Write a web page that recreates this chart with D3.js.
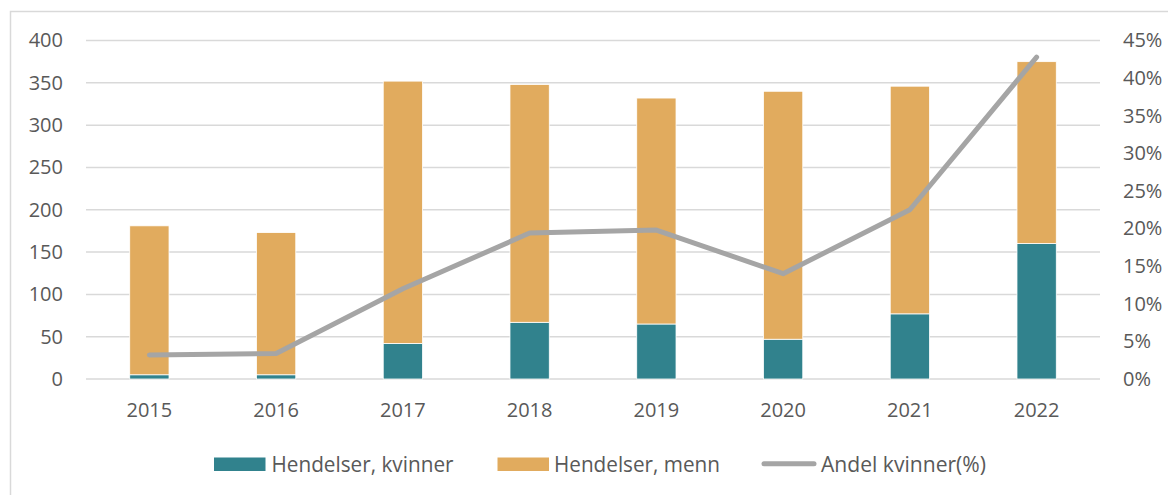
<!DOCTYPE html>
<html>
<head>
<meta charset="utf-8">
<script src="https://cdn.jsdelivr.net/npm/d3@7"></script>
<style>
  body { margin: 0; background: #fff; }
  svg text { font-family: "Open Sans", sans-serif; fill: #595959; }
</style>
</head>
<body>
<svg id="chart" width="1168" height="495"></svg>
<script>
const years = ['2015', '2016', '2017', '2018', '2019', '2020', '2021', '2022'];
const women = [5, 5, 42, 67, 65, 47, 77, 160];
const men = [176, 168, 310, 281, 267, 293, 269, 215];
const shareWomen = [3.2, 3.4, 12.0, 19.4, 19.8, 14.0, 22.5, 42.8];
const leftTicks = [0, 50, 100, 150, 200, 250, 300, 350, 400];
const rightTicks = [0, 5, 10, 15, 20, 25, 30, 35, 40, 45];
const legendLabels = ['Hendelser, kvinner', 'Hendelser, menn', 'Andel kvinner(%)'];

const colWomen = '#31828d', colMen = '#e1ab5e', colLine = '#a5a5a5', colGrid = '#d9d9d9';

const svg = d3.select('#chart');
const margin = { left: 86, right: 1100, top: 40.5, bottom: 379 };

// chart frame
svg.append('rect')
    .attr('x', 10.5).attr('y', 11.5)
    .attr('width', 1200).attr('height', 600)
    .attr('fill', 'none').attr('stroke', colGrid).attr('stroke-width', 1.5);

let x = d3.scaleBand().domain(years)
    .range([margin.left, margin.right])
    .paddingInner(0.69).paddingOuter(0.345);
let y = d3.scaleLinear().domain([0, 400]).range([margin.bottom, margin.top]);
let y2 = d3.scaleLinear().domain([0, 45]).range([margin.bottom, margin.top]);

// gridlines
svg.append('g').selectAll('line').data(leftTicks).join('line')
    .attr('x1', margin.left).attr('x2', margin.right)
    .attr('y1', (d) => y(d)).attr('y2', (d) => y(d))
    .attr('stroke', colGrid).attr('stroke-width', 1.5);

// left axis
let leftAxis = svg.append('g')
    .attr('transform', `translate(${margin.left - 23},0)`)
    .call(d3.axisLeft(y).tickValues(leftTicks).tickSize(0).tickPadding(0));
leftAxis.select('.domain').remove();
leftAxis.selectAll('text').style('font-size', '20px').attr('fill', '#595959');

// right axis
let rightAxis = svg.append('g')
    .attr('transform', `translate(${margin.right + 23},0)`)
    .call(d3.axisRight(y2).tickValues(rightTicks).tickSize(0).tickPadding(0)
        .tickFormat((d) => d + '%'));
rightAxis.select('.domain').remove();
rightAxis.selectAll('text').style('font-size', '20px').attr('fill', '#595959');

// bottom axis
let bottomAxis = svg.append('g')
    .attr('transform', `translate(0,${margin.bottom})`)
    .call(d3.axisBottom(x).tickSize(0).tickPadding(24));
bottomAxis.select('.domain').remove();
bottomAxis.selectAll('text').style('font-size', '20px').attr('fill', '#595959');

// stacked bars
let stackData = years.map((yr, i) => ({ year: yr, women: women[i], men: men[i] }));
let series = d3.stack().keys(['women', 'men'])(stackData);
let colors = { women: colWomen, men: colMen };

svg.append('g').selectAll('g').data(series).join('g')
    .attr('fill', (s) => colors[s.key])
    .selectAll('rect').data((s) => s).join('rect')
    .attr('x', (d) => x(d.data.year))
    .attr('width', x.bandwidth())
    .attr('y', (d) => y(d[1]))
    .attr('height', (d) => y(d[0]) - y(d[1]))
    .attr('stroke', '#fff').attr('stroke-width', 0.8);

// share line
let line = d3.line()
    .x((d, i) => x(years[i]) + x.bandwidth() / 2)
    .y((d) => y2(d));

svg.append('path')
    .attr('d', line(shareWomen))
    .attr('fill', 'none')
    .attr('stroke', colLine)
    .attr('stroke-width', 5)
    .attr('stroke-linecap', 'round')
    .attr('stroke-linejoin', 'round');

// legend
let legend = svg.append('g');
let legendItems = [
    { label: legendLabels[0], kind: 'rect', color: colWomen, x: 214, textX: 271.5, w: 182 },
    { label: legendLabels[1], kind: 'rect', color: colMen, x: 497.5, textX: 554, w: 166 },
    { label: legendLabels[2], kind: 'line', color: colLine, x: 762, textX: 821, w: 165 }
];
legendItems.forEach((item) => {
    if (item.kind === 'rect') {
        legend.append('rect')
            .attr('x', item.x).attr('y', 457.5)
            .attr('width', 51.5).attr('height', 13.5)
            .attr('fill', item.color);
    } else {
        legend.append('line')
            .attr('x1', item.x + 2).attr('x2', item.x + 52)
            .attr('y1', 463.8).attr('y2', 463.8)
            .attr('stroke', item.color).attr('stroke-width', 5)
            .attr('stroke-linecap', 'round');
    }
    legend.append('text')
        .attr('x', item.textX).attr('y', 471.5)
        .attr('textLength', item.w)
        .attr('lengthAdjust', 'spacingAndGlyphs')
        .style('font-size', '21px')
        .text(item.label);
});
</script>
</body>
</html>
